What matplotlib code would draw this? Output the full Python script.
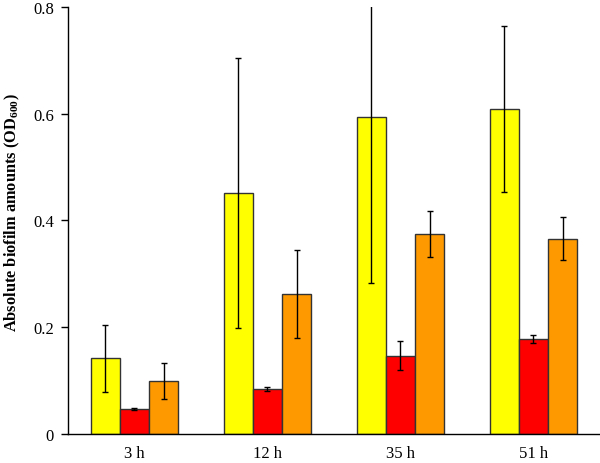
import matplotlib.pyplot as plt
import numpy as np

plt.rcParams['font.family'] = ['Liberation Serif', 'DejaVu Serif']
plt.rcParams['mathtext.fontset'] = 'custom'
plt.rcParams['mathtext.rm'] = 'Liberation Serif'
plt.rcParams['mathtext.bf'] = 'Liberation Serif:bold'

# Biofilm amounts (OD600) at each time point
times = ["3 h", "12 h", "35 h", "51 h"]
yellow_vals = [0.142, 0.451, 0.593, 0.609]
yellow_err = [0.063, 0.253, 0.311, 0.155]
red_vals = [0.047, 0.084, 0.147, 0.178]
red_err = [0.002, 0.004, 0.027, 0.007]
orange_vals = [0.099, 0.262, 0.374, 0.366]
orange_err = [0.034, 0.083, 0.043, 0.040]

x = np.arange(len(times))
w = 0.22

fig = plt.figure(figsize=(6, 4.64), dpi=100)
ax = fig.add_axes([0.1133, 0.0625, 0.8867, 0.9203])

err_kw = dict(ecolor="black", elinewidth=1, capsize=2.5, capthick=1)
ax.bar(x - w, yellow_vals, w, yerr=yellow_err, color="#FFFF00", edgecolor="#333333",
       linewidth=1, error_kw=err_kw)
ax.bar(x, red_vals, w, yerr=red_err, color="#FF0000", edgecolor="#333333",
       linewidth=1, error_kw=err_kw)
ax.bar(x + w, orange_vals, w, yerr=orange_err, color="#FF9900", edgecolor="#333333",
       linewidth=1, error_kw=err_kw)

ax.set_xlim(-0.5, 3.5)
ax.set_ylim(0, 0.8)
ax.set_yticks([0, 0.2, 0.4, 0.6, 0.8])
ax.set_yticklabels(["0", "0.2", "0.4", "0.6", "0.8"], fontsize=12)
ax.set_xticks(x)
ax.set_xticklabels(times, fontsize=12)
ax.tick_params(axis="x", length=0, pad=8)
ax.tick_params(axis="y", direction="out", length=5, width=1, pad=5)

for s in ["top", "right"]:
    ax.spines[s].set_visible(False)
for s in ["left", "bottom"]:
    ax.spines[s].set_linewidth(1)

ax.set_ylabel(r"Absolute biofilm amounts (OD$_{\mathbf{600}}$)", fontsize=11.8,
              fontweight="bold")
ax.yaxis.set_label_coords(-0.087, 0.52)

fig.savefig("out.png", dpi=100)
